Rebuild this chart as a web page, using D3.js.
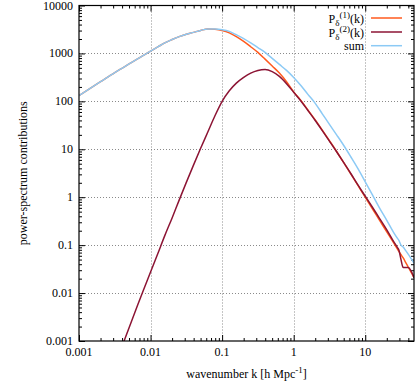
<!DOCTYPE html>
<html>
<head>
<meta charset="utf-8">
<script src="https://cdn.jsdelivr.net/npm/d3@7"></script>
<style>
  body { margin: 0; background: #fff; }
  svg { display: block; }
  text { font-family: "Liberation Serif", "Times New Roman", serif; fill: #000; }
</style>
</head>
<body>
<div id="chart"></div>
<script>
// wavenumber samples [h/Mpc]
const kValues = [0.001, 0.002, 0.00316, 0.00398, 0.00501, 0.00631, 0.00794, 0.01, 0.0126, 0.0158,
  0.02, 0.0251, 0.0316, 0.0398, 0.0501, 0.0631, 0.0794, 0.1, 0.126, 0.158,
  0.2, 0.251, 0.316, 0.398, 0.501, 0.631, 0.794, 1, 1.26, 1.58,
  2, 2.51, 3.16, 3.98, 5.01, 6.31, 7.94, 10, 12.6, 15.8,
  20, 25.1, 28.2, 29.5, 31.6, 33.9, 36.3, 39.8, 48];

// P_delta^(1)(k)
const p1Values = [132, 257, 398, 490, 603, 741, 912, 1120, 1365, 1660,
  1950, 2240, 2510, 2750, 3020, 3250, 3200, 3020, 2690, 2240,
  1780, 1380, 1050, 759, 545, 389, 257, 158, 105, 66,
  41, 25.1, 15.1, 9.0, 5.25, 3.02, 1.74, 1.0, 0.575, 0.331,
  0.19, 0.11, 0.083, 0.074, 0.063, 0.054, 0.045, 0.035, 0.021];

// P_delta^(2)(k)
const p2Values = [null, null, null, 0.00076, 0.0019, 0.0047, 0.0115, 0.0275, 0.066, 0.158,
  0.37, 0.87, 2.04, 4.68, 10.5, 22.9, 50, 100, 166, 240,
  316, 389, 442, 462, 417, 331, 234, 155, 102, 64.6,
  39.8, 24.5, 14.8, 8.9, 5.25, 3.09, 1.78, 1.05, 0.617, 0.363,
  0.209, 0.117, 0.089, 0.079, 0.050, 0.034, 0.034, 0.034, 0.021];

// sum
const sumValues = [132, 257, 398, 490, 603, 741, 912, 1120, 1365, 1660,
  1950, 2240, 2510, 2750, 3020, 3250, 3230, 3120, 2880, 2450,
  2040, 1660, 1320, 1050, 790, 590, 442, 316, 214, 140,
  91, 55, 33, 20, 12, 6.9, 3.9, 2.1, 1.12, 0.60,
  0.33, 0.18, 0.138, 0.126, 0.10, 0.091, 0.079, 0.065, 0.042];

const xTicks = [0.001, 0.01, 0.1, 1, 10];
const xTickLabels = ["0.001", "0.01", "0.1", "1", "10"];
const yTicks = [0.001, 0.01, 0.1, 1, 10, 100, 1000, 10000];
const yTickLabels = ["0.001", "0.01", "0.1", "1", "10", "100", "1000", "10000"];

const seriesNames = ["p1", "p2", "sum"];
const seriesColors = ["#ff5a1e", "#8c1434", "#8ccaf5"];

const W = 415, H = 391;
const plot = { left: 79, right: 414, top: 5.5, bottom: 341 };

const svg = d3.select("#chart").append("svg")
  .attr("width", W)
  .attr("height", H);

const x = d3.scaleLog().domain([0.001, 48]).range([plot.left, plot.right]);
const y = d3.scaleLog().domain([0.001, 10000]).range([plot.bottom, plot.top]);

// grid (dotted, only at major ticks)
const grid = svg.append("g").attr("stroke", "#8a8a8a").attr("stroke-width", 1)
  .attr("stroke-dasharray", "1,2");
grid.selectAll(".gx")
  .data(xTicks.slice(1))
  .join("line")
  .attr("x1", d => Math.round(x(d)) + 0.5).attr("x2", d => Math.round(x(d)) + 0.5)
  .attr("y1", plot.top).attr("y2", plot.bottom);
grid.selectAll(".gy")
  .data(yTicks.slice(1, -1))
  .join("line")
  .attr("x1", plot.left).attr("x2", plot.right)
  .attr("y1", d => Math.round(y(d)) + 0.5).attr("y2", d => Math.round(y(d)) + 0.5);

// ticks: major + minor, mirrored on all four sides
const xMinor = x.ticks().filter(d => !xTicks.some(t => Math.abs(t - d) < t * 1e-6));
const yMinor = y.ticks().filter(d => !yTicks.some(t => Math.abs(t - d) < t * 1e-6));

function tickAxis(axisFn, scale, values, size, tx, ty) {
  const g = svg.append("g")
    .attr("transform", `translate(${tx},${ty})`)
    .call(axisFn(scale).tickValues(values).tickSize(-size).tickFormat(""));
  g.select(".domain").remove();
  g.selectAll("line").attr("stroke", "#000");
  return g;
}
tickAxis(d3.axisBottom, x, xTicks, 6, 0, plot.bottom);
tickAxis(d3.axisBottom, x, xMinor, 3, 0, plot.bottom);
tickAxis(d3.axisTop, x, xTicks, 6, 0, plot.top);
tickAxis(d3.axisTop, x, xMinor, 3, 0, plot.top);
tickAxis(d3.axisLeft, y, yTicks, 6, plot.left, 0);
tickAxis(d3.axisLeft, y, yMinor, 3, plot.left, 0);
tickAxis(d3.axisRight, y, yTicks, 6, plot.right, 0);
tickAxis(d3.axisRight, y, yMinor, 3, plot.right, 0);

// tick labels
svg.append("g").selectAll("text")
  .data(xTicks)
  .join("text")
  .attr("x", d => x(d))
  .attr("y", 355.5)
  .attr("text-anchor", "middle")
  .attr("font-size", "12px")
  .text((d, i) => xTickLabels[i]);

svg.append("g").selectAll("text")
  .data(yTicks)
  .join("text")
  .attr("x", 73)
  .attr("y", d => y(d) + 4)
  .attr("text-anchor", "end")
  .attr("font-size", "12px")
  .text((d, i) => yTickLabels[i]);

// curves
svg.append("clipPath").attr("id", "plot-clip")
  .append("rect")
  .attr("x", plot.left).attr("y", plot.top)
  .attr("width", plot.right - plot.left).attr("height", plot.bottom - plot.top);

const line = d3.line()
  .defined(d => d.v != null)
  .x(d => x(d.k))
  .y(d => y(d.v))
  .curve(d3.curveMonotoneX);

const seriesValues = [p1Values, p2Values, sumValues];
const curves = svg.append("g").attr("clip-path", "url(#plot-clip)");
seriesValues.forEach((vals, i) => {
  curves.append("path")
    .attr("class", "curve-" + seriesNames[i])
    .datum(kValues.map((k, j) => ({ k: k, v: vals[j] })))
    .attr("fill", "none")
    .attr("stroke", seriesColors[i])
    .attr("stroke-width", 1.5)
    .attr("stroke-linejoin", "round")
    .attr("d", line);
});

// border
svg.append("rect")
  .attr("x", plot.left).attr("y", plot.top)
  .attr("width", plot.right - plot.left).attr("height", plot.bottom - plot.top)
  .attr("fill", "none")
  .attr("stroke", "#000")
  .attr("stroke-width", 1.2);

// legend
const legendY = [18, 32, 45.7];
const legendBase = [23, 37, 49.5];
const legend = svg.append("g");
[0, 1].forEach(i => {
  const t = legend.append("text")
    .attr("x", 364)
    .attr("y", legendBase[i])
    .attr("text-anchor", "end")
    .attr("font-size", "12px");
  t.append("tspan").text("P");
  t.append("tspan").attr("font-size", "9px").attr("dy", 2.5).text("δ");
  t.append("tspan").attr("font-size", "9px").attr("dy", -7.5).text(i === 0 ? "(1)" : "(2)");
  t.append("tspan").attr("dy", 5).text("(k)");
});
legend.append("text")
  .attr("x", 364)
  .attr("y", legendBase[2])
  .attr("text-anchor", "end")
  .attr("font-size", "12px")
  .text("sum");
legendY.forEach((ly, i) => {
  legend.append("line")
    .attr("x1", 371).attr("x2", 402)
    .attr("y1", ly).attr("y2", ly)
    .attr("stroke", seriesColors[i])
    .attr("stroke-width", 1.5);
});

// axis titles
const xt = svg.append("text")
  .attr("x", (plot.left + plot.right) / 2)
  .attr("y", 378)
  .attr("text-anchor", "middle")
  .attr("font-size", "12px");
xt.append("tspan").text("wavenumber k [h Mpc");
xt.append("tspan").attr("font-size", "9px").attr("dy", -5).text("-1");
xt.append("tspan").attr("dy", 5).text("]");

svg.append("text")
  .attr("transform", `translate(27,${(plot.top + plot.bottom) / 2}) rotate(-90)`)
  .attr("text-anchor", "middle")
  .attr("font-size", "12px")
  .text("power-spectrum contributions");
</script>
</body>
</html>
